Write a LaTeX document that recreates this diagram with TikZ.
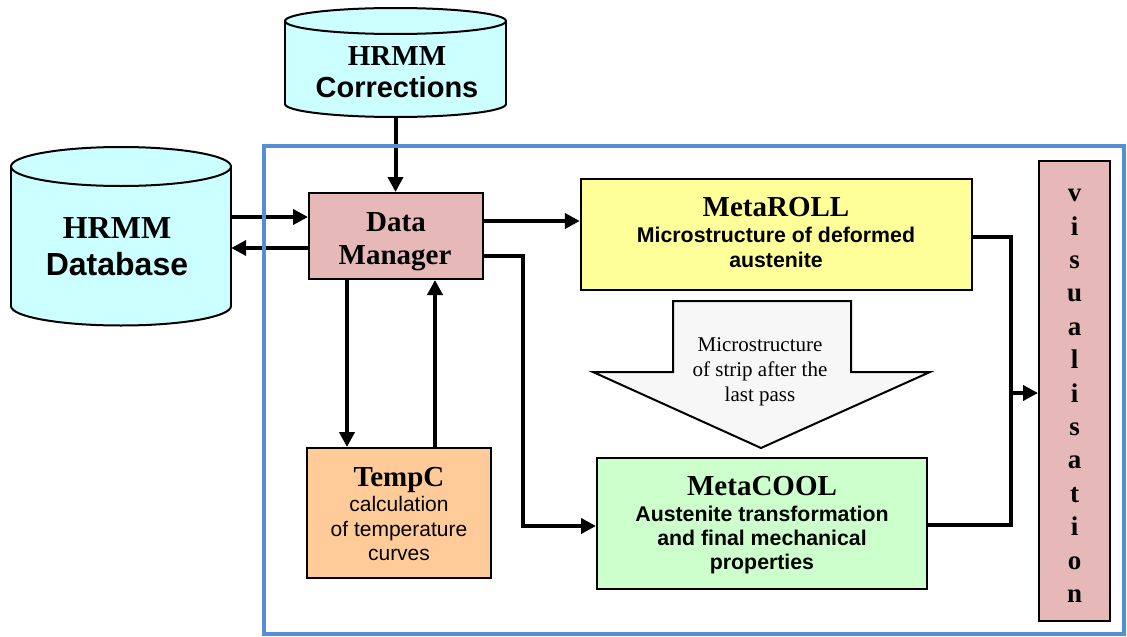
\documentclass[tikz,border=0pt]{standalone}
\usepackage{fontspec}
\setmainfont{Liberation Serif}
\newfontfamily\arialfont{Liberation Sans}
\usetikzlibrary{arrows.meta,calc}

\definecolor{cylcol}{HTML}{CCFFFF}
\definecolor{pinkcol}{HTML}{E6B9B8}
\definecolor{yellowcol}{HTML}{FFFF99}
\definecolor{greencol}{HTML}{CCFFCC}
\definecolor{orangecol}{HTML}{FFCC99}
\definecolor{flowcol}{HTML}{F7F7F7}
\definecolor{framecol}{HTML}{558ED5}

% cylinder: left x, right x, top-rim centre y, bottom-rim centre y, rim radius
\newcommand\drumshape[5]{%
  \pgfmathsetmacro\dcx{(#1+#2)/2}%
  \pgfmathsetmacro\drx{(#2-#1)/2}%
  \path[fill=cylcol, draw=black, line width=2pt] (\dcx,#4) ellipse [x radius=\drx, y radius=#5];
  \fill[cylcol] (#1,#3) rectangle (#2,#4);
  \draw[line width=2pt] (#1,#3) -- (#1,#4) (#2,#3) -- (#2,#4);
  \path[fill=cylcol, draw=black, line width=2pt] (\dcx,#3) ellipse [x radius=\drx, y radius=#5];
}

\tikzset{
  box/.style={draw=black, line width=2pt, inner sep=0pt},
  conn/.style={line width=4pt},
  arr/.style={conn, -{Triangle[length=15pt,width=15pt]}},
  headtext/.style={anchor=base, font=\fontsize{29}{35}\selectfont\bfseries},
  subtext/.style={anchor=base, font=\arialfont\fontsize{21.3}{25}\selectfont\bfseries},
  plaintext/.style={anchor=base, font=\arialfont\fontsize{21}{25}\selectfont},
  flowtext/.style={anchor=base, font=\fontsize{21}{25}\selectfont},
}

\begin{document}
\begin{tikzpicture}[x=1pt, y=-1pt]
\useasboundingbox (0,0) rectangle (1127,637);

% data stores
\drumshape{285}{506}{21}{104}{13}
\node[inner sep=0pt, minimum width=221pt, minimum height=109pt] (corr) at (395.5,62.5) {};
\node[font=\fontsize{29}{35}\selectfont\bfseries, anchor=base] (corrA) at (397,65) {HRMM};
\node[font=\arialfont\fontsize{29}{35}\selectfont\bfseries, anchor=base] (corrB) at (397,97) {Corrections};

\drumshape{11}{231}{166.5}{306}{19.5}
\node[inner sep=0pt, minimum width=220pt, minimum height=179pt] (db) at (121,236.5) {};
\node[font=\fontsize{32}{38}\selectfont\bfseries, anchor=base] (dbA) at (117,238) {HRMM};
\node[font=\arialfont\fontsize{32}{38}\selectfont\bfseries, anchor=base] (dbB) at (117,275) {Database};

% process boxes
\node[box, fill=pinkcol, minimum width=174pt, minimum height=86pt] (dm) at (396,236) {};
\node[headtext] (dmA) at (396,231) {Data};
\node[headtext] (dmB) at (395,264) {Manager};

\node[box, fill=yellowcol, minimum width=391pt, minimum height=111pt] (roll) at (776.3,234.5) {};
\node[headtext] (rollA) at (776,216.5) {MetaROLL};
\node[subtext] (rollB) at (776,242.5) {Microstructure of deformed};
\node[subtext] (rollC) at (776,267) {austenite};

\node[box, fill=greencol, minimum width=330pt, minimum height=131pt] (cool) at (762,523.5) {};
\node[headtext] (coolA) at (762,495) {MetaCOOL};
\node[subtext] (coolB) at (762,521.5) {Austenite transformation};
\node[subtext] (coolC) at (762,545.5) {and final mechanical};
\node[subtext] (coolD) at (762,569.5) {properties};

\node[box, fill=orangecol, minimum width=184pt, minimum height=130pt] (tempc) at (399,513) {};
\node[headtext] (tempA) at (399,486) {TempC};
\node[plaintext] (tempB) at (399,511.5) {calculation};
\node[plaintext] (tempC) at (399,536.5) {of temperature};
\node[plaintext] (tempD) at (399,560.5) {curves};

\node[box, fill=pinkcol, minimum width=71pt, minimum height=460pt] (vis) at (1074.5,391) {};
\foreach \c [count=\i from 0] in {v,i,s,u,a,l,i,s,a,t,i,o,n}
  \node[anchor=base, font=\fontsize{27}{33}\selectfont\bfseries] (vis\i) at (1074.5,{201.7+33.4*\i}) {\c};

% block arrow between the two models
\draw[line width=2pt, fill=flowcol, line join=miter]
  (673,301) -- (851,301) -- (851,372) -- (930,372) -- (761,448) -- (593,372) -- (673,372) -- cycle;
\node[flowtext] (flowA) at (760,351.5) {Microstructure};
\node[flowtext] (flowB) at (760,376.5) {of strip after the};
\node[flowtext] (flowC) at (760,401.5) {last pass};

% connectors
\draw[arr] (corr.south) -- (corr.south |- dm.north);
\draw[arr] (db.east |- 0,217) -- (dm.west |- 0,217);
\draw[arr] (dm.west |- 0,248) -- (db.east |- 0,248);
\draw[arr] (dm.east |- 0,221) -- (roll.west |- 0,221);
\draw[arr] (dm.east |- 0,256) -| (523,526) -- (cool.west |- 0,526);
\draw[arr] (dm.south -| 347,0) -- (tempc.north -| 347,0);
\draw[arr] (tempc.north -| 435,0) -- (dm.south -| 435,0);

\coordinate (bus) at (1011,393);
\draw[conn] (roll.east |- 0,237) -| (bus);
\draw[conn] (cool.east |- 0,525) -| (bus);
\draw[arr] (bus) -- (vis.west |- bus);

% outer blue frame, lying over the connectors it crosses
\draw[framecol, line width=4pt] (264,146) rectangle (1124,634);
\end{tikzpicture}
\end{document}
